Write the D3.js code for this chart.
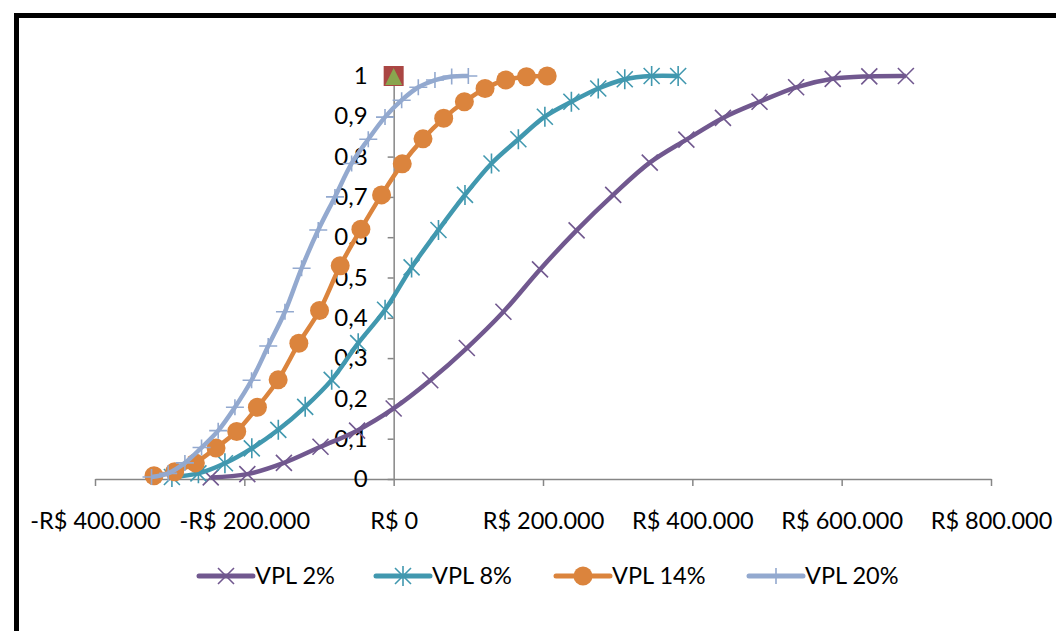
<!DOCTYPE html>
<html>
<head>
<meta charset="utf-8">
<script src="https://cdn.jsdelivr.net/npm/d3@7"></script>
<style>
	body { margin: 0; background: #fff; }
	text { font-family: Lato, "Open Sans", sans-serif; fill: #000; }
</style>
</head>
<body>
<div id="dataviz_area"></div>
<script>
// values (x in R$, y = cumulative probability)
const vpl2_x = [-245000, -196000, -147000, -98000, -49000, 0, 49000, 98000, 147000, 196000,
	245000, 294000, 343000, 392000, 441000, 490000, 539000, 588000, 637000, 686000];
const vpl2_y = [0.004, 0.012, 0.04, 0.08, 0.12, 0.175, 0.245, 0.325, 0.415, 0.52,
	0.617, 0.705, 0.785, 0.842, 0.896, 0.936, 0.972, 0.993, 0.999, 1.0];

const vpl8_x = [-297000, -261500, -226000, -190000, -154500, -118500, -83000, -47500, -11500, 24000,
	60000, 95500, 131000, 167000, 202500, 238000, 274000, 309500, 345500, 381000];
const vpl8_y = [0.005, 0.014, 0.039, 0.076, 0.122, 0.179, 0.246, 0.337, 0.42, 0.525,
	0.618, 0.705, 0.783, 0.843, 0.899, 0.936, 0.969, 0.992, 1.0, 1.0];

const vpl14_x = [-321000, -293300, -265600, -237900, -210200, -182500, -154700, -127000, -99300, -71600,
	-43900, -16200, 11500, 39300, 67000, 94700, 122400, 150100, 177900, 205600];
const vpl14_y = [0.008, 0.018, 0.04, 0.077, 0.118, 0.178, 0.246, 0.337, 0.418, 0.529,
	0.62, 0.705, 0.782, 0.844, 0.895, 0.936, 0.969, 0.99, 0.998, 1.0];

const vpl20_x = [-324300, -302000, -279600, -257300, -235000, -212600, -190300, -168000, -145600, -123300,
	-101000, -78600, -56300, -34000, -11600, 10700, 33000, 55300, 77700, 100000];
const vpl20_y = [0.005, 0.014, 0.04, 0.078, 0.12, 0.178, 0.245, 0.33, 0.415, 0.523,
	0.618, 0.70, 0.783, 0.843, 0.898, 0.94, 0.972, 0.99, 0.999, 1.0];

// the single point at (0, 1): red square with green triangle on it
const base_point = [0, 1];

const series_names = ["VPL 2%", "VPL 8%", "VPL 14%", "VPL 20%"];
const x_ticks = [-400000, -200000, 0, 200000, 400000, 600000, 800000];
const y_ticks = [0, 0.1, 0.2, 0.3, 0.4, 0.5, 0.6, 0.7, 0.8, 0.9, 1];

let canvas_width = 1056;
let canvas_height = 631;

make_chart();

function fmt_money(v) {
	let s = d3.format(",")(Math.abs(v)).replace(/,/g, ".");
	return (v < 0 ? "-" : "") + "R$ " + s;
}

function fmt_prob(v) {
	return d3.format("~g")(+v.toFixed(1)).replace(".", ",");
}

// draws a marker of the given kind centred on 0,0 inside g
function draw_marker(g, kind, color) {
	if (kind == "x") {
		g.append("path").attr("d", "M-8,-8L8,8M-8,8L8,-8")
			.attr("stroke", color).attr("stroke-width", 1.6).attr("fill", "none");
	} else if (kind == "star") {
		g.append("path").attr("d", "M-8,-8L8,8M-8,8L8,-8M0,-10L0,10")
			.attr("stroke", color).attr("stroke-width", 1.6).attr("fill", "none");
	} else if (kind == "circle") {
		g.append("circle").attr("r", 9.5).attr("fill", color);
	} else if (kind == "plus") {
		g.append("path").attr("d", "M-9,0L9,0M0,-8L0,8")
			.attr("stroke", color).attr("stroke-width", 1.6).attr("fill", "none");
	}
}

function make_chart() {
	const svg = d3.select("#dataviz_area")
		.append("svg")
			.attr("width", canvas_width)
			.attr("height", canvas_height);

	// thick black frame, runs off the right and bottom edge
	svg.append("rect")
		.attr("x", 16.5).attr("y", 15.5)
		.attr("width", 1200).attr("height", 800)
		.attr("fill", "none")
		.attr("stroke", "#000")
		.attr("stroke-width", 5);

	const x = d3.scaleLinear()
		.domain([-400000, 800000])
		.range([95, 991]);
	const y = d3.scaleLinear()
		.domain([0, 1])
		.range([479, 76]);

	// x axis at y = 0
	const xAxis = svg.append("g")
		.attr("transform", "translate(0," + y(0) + ")")
		.call(d3.axisBottom(x).tickValues(x_ticks).tickSize(7).tickSizeOuter(0).tickFormat(fmt_money));
	xAxis.select(".domain").attr("stroke", "#868686").attr("stroke-width", 1.5);
	xAxis.selectAll(".tick line").attr("stroke", "#868686").attr("stroke-width", 1.5);
	xAxis.selectAll(".tick text")
		.attr("y", 42).attr("dy", "0.35em")
		.style("font-size", "23.5px")
		.attr("fill", "#000");

	// y axis at x = 0
	const yAxis = svg.append("g")
		.attr("transform", "translate(" + x(0) + ",0)")
		.call(d3.axisLeft(y).tickValues(y_ticks).tickSize(6).tickSizeOuter(0).tickFormat(fmt_prob));
	yAxis.select(".domain").attr("stroke", "#868686").attr("stroke-width", 1.5);
	yAxis.selectAll(".tick line").attr("stroke", "#868686").attr("stroke-width", 1.5);
	yAxis.selectAll(".tick text")
		.attr("x", -26)
		.style("font-size", "24px")
		.attr("fill", "#000");

	const series = [
		{name: series_names[0], xs: vpl2_x, ys: vpl2_y, color: "#71588F", marker: "x", width: 4.5},
		{name: series_names[1], xs: vpl8_x, ys: vpl8_y, color: "#4198AF", marker: "star", width: 4.5},
		{name: series_names[2], xs: vpl14_x, ys: vpl14_y, color: "#DB843D", marker: "circle", width: 4.5},
		{name: series_names[3], xs: vpl20_x, ys: vpl20_y, color: "#93A9CF", marker: "plus", width: 4.5}
	];

	const line = d3.line()
		.x(d => x(d[0]))
		.y(d => y(d[1]))
		.curve(d3.curveCatmullRom.alpha(0.5));

	series.forEach(s => {
		const pts = s.xs.map((v, i) => [v, s.ys[i]]);
		svg.append("path")
			.datum(pts)
			.attr("fill", "none")
			.attr("stroke", s.color)
			.attr("stroke-width", s.width)
			.attr("stroke-linejoin", "round")
			.attr("d", line);
		pts.forEach(p => {
			const g = svg.append("g").attr("transform", "translate(" + x(p[0]) + "," + y(p[1]) + ")");
			draw_marker(g, s.marker, s.color);
		});
	});

	// red square + green triangle at (0,1)
	svg.append("rect")
		.attr("x", x(base_point[0]) - 10).attr("y", y(base_point[1]) - 10)
		.attr("width", 20).attr("height", 20)
		.attr("fill", "#AA4643");
	svg.append("path")
		.attr("transform", "translate(" + x(base_point[0]) + "," + y(base_point[1]) + ")")
		.attr("d", "M0,-8L8.5,9L-8.5,9Z")
		.attr("fill", "#89A54E");

	// legend
	const legend_x = [199, 376, 556, 749];
	const legend = svg.append("g").attr("transform", "translate(0,576)");
	series.forEach((s, i) => {
		const g = legend.append("g").attr("transform", "translate(" + legend_x[i] + ",0)");
		g.append("line")
			.attr("x1", 0).attr("x2", 54)
			.attr("stroke", s.color).attr("stroke-width", 5)
			.attr("stroke-linecap", "round");
		draw_marker(g.append("g").attr("transform", "translate(27,0)"), s.marker, s.color);
		g.append("text")
			.attr("x", 56).attr("dy", "0.35em")
			.style("font-size", "23.5px")
			.text(s.name);
	});
}
</script>
</body>
</html>
